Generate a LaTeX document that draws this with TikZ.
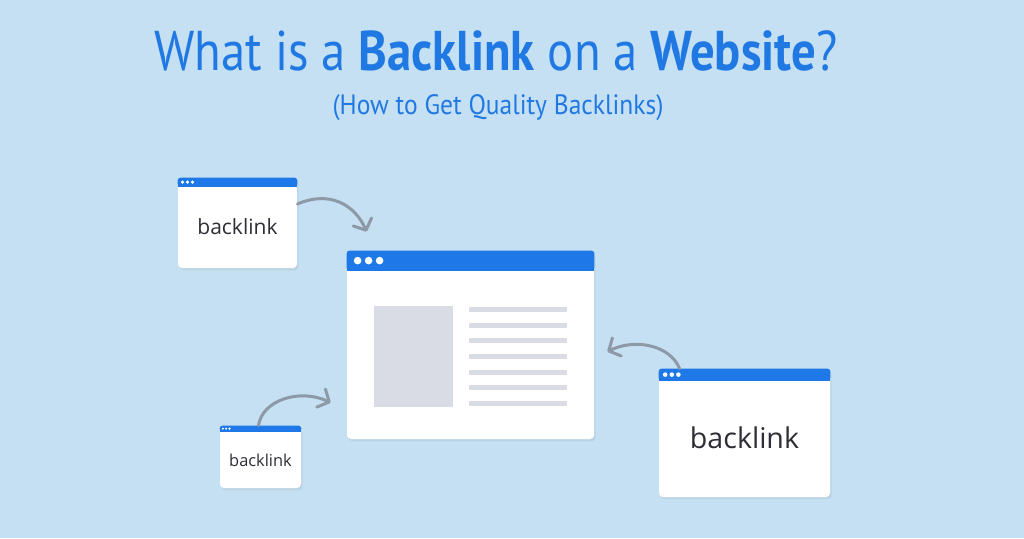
\documentclass[tikz,border=0pt]{standalone}
\usepackage{fontspec}
\setmainfont{Open Sans}
\newfontfamily\titlefont{PT Sans}[FakeStretch=0.87]
\newfontfamily\subtitlefont{PT Sans}[FakeStretch=0.91]
\usepackage{xcolor}
\usetikzlibrary{arrows.meta}
\usetikzlibrary{shadows}
\definecolor{bgblue}{HTML}{C4E0F2}
\definecolor{titleblue}{HTML}{2079E3}
\definecolor{barblue}{HTML}{1E78E8}
\definecolor{arrowgray}{HTML}{8D99A6}
\definecolor{boxgray}{HTML}{DADCE5}
\definecolor{textdark}{HTML}{2E2E36}
\tikzset{
    win/.style = {fill=white, rounded corners=2pt, inner sep=0pt,
                  drop shadow={opacity=0.12, shadow xshift=0.8pt, shadow yshift=-1.2pt}},
    wtext/.style = {text=textdark, inner sep=0pt},
    bar/.style = {fill=barblue},
    link/.style = {draw=arrowgray, line width=1.5pt, line cap=round,
                   -{Straight Barb[length=4.5pt, width=10pt, line width=1.5pt, round]}},
    textline/.style = {fill=boxgray}
}
% blue title bar with three dots: node, bar height (pt)
\newcommand{\winbar}[2]{%
    \fill[bar, rounded corners=1.5pt] (#1.north west) rectangle ([yshift=-#2pt]#1.north east);
    \fill[bar] ([yshift=-#2pt/2]#1.north west) rectangle ([yshift=-#2pt]#1.north east);
    \foreach \i in {0,1,2}
        \fill[white] ([xshift=#2pt*0.55+\i*#2pt*0.55, yshift=-#2pt/2]#1.north west) circle (#2pt*0.19);
}

\begin{document}
\begin{tikzpicture}[x=0.5pt, y=-0.5pt]
    \useasboundingbox[fill=bgblue] (0,0) rectangle (1024,538);

    % heading
    \node[text=titleblue, font=\titlefont\fontsize{28}{30}\selectfont, anchor=base] (title) at (496,70)
        {What is a \textbf{Backlink} on a \textbf{Website}?};
    \node[text=titleblue, font=\subtitlefont\fontsize{14}{16}\selectfont, anchor=base] (subtitle) at (498,114)
        {(How to Get Quality Backlinks)};

    % windows
    \node[win, minimum width=59.5pt, minimum height=45pt] (w1) at (237.5,223) {};
    \node[win, minimum width=123.5pt, minimum height=94pt] (main) at (470.5,345) {};
    \node[win, minimum width=40.5pt, minimum height=31pt] (w3) at (260.5,457) {};
    \node[win, minimum width=85.5pt, minimum height=64pt] (w4) at (744.5,433) {};

    \winbar{w1}{4.5}
    \winbar{main}{10}
    \winbar{w3}{3}
    \winbar{w4}{6}

    \node[wtext, font=\fontsize{10.5}{12}\selectfont] (t1) at ([yshift=-2pt]w1.center) {backlink};
    \node[wtext, font=\fontsize{8.2}{10}\selectfont] (t3) at ([yshift=-1.5pt]w3.center) {backlink};
    \node[wtext, font=\fontsize{14.3}{16}\selectfont] (t4) at ([yshift=-2.5pt]w4.center) {backlink};

    % page content
    \fill[boxgray] (374,306) rectangle (453,407);
    \foreach \y in {309,325,340,356,372,387,403}
        \fill[textline] (469,\y-2.5) rectangle (567,\y+2.5);

    % arrows
    \coordinate (a1) at ([yshift=9.5pt]w1.east);
    \coordinate (b1) at ([xshift=10pt, yshift=9.5pt]main.north west);
    \coordinate (a3) at ([xshift=-1pt]w3.north);
    \coordinate (b3) at ([xshift=-8pt, yshift=-76pt]main.north west);
    \coordinate (a4) at ([xshift=10.5pt]w4.north west);
    \coordinate (b4) at ([xshift=6.5pt, yshift=-50.5pt]main.north east);

    \draw[link] (a1) .. controls (330,190) and (355,205) .. (b1);
    \draw[link] (a3) .. controls (262,400) and (300,388) .. (b3);
    \draw[link] (a4) .. controls (670,345) and (635,338) .. (b4);
\end{tikzpicture}
\end{document}
